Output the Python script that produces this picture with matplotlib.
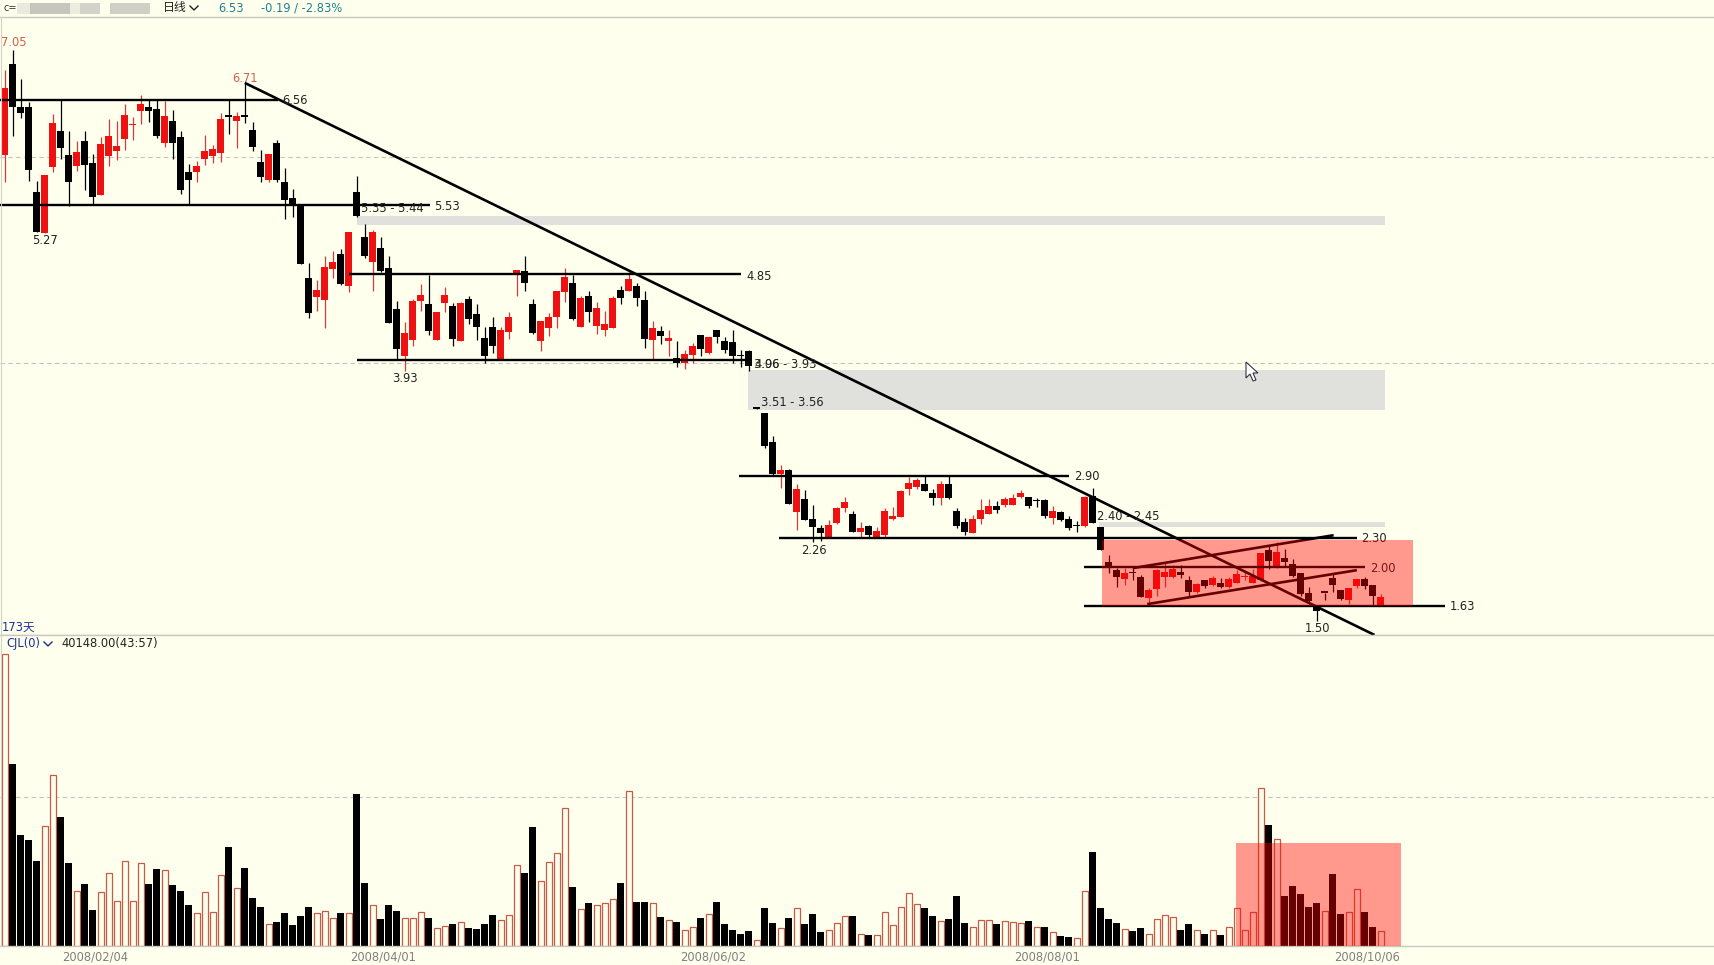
import matplotlib
matplotlib.use('Agg')
import matplotlib.pyplot as plt
from matplotlib.patches import Rectangle, Polygon

plt.rcParams['font.family'] = ['DejaVu Sans', 'Noto Sans CJK SC']

# daily prices
opens = [6.03, 6.91, 6.50, 6.50, 5.67, 5.27, 5.91, 6.26, 6.03, 5.92,
         6.16, 5.95, 5.64, 6.02, 6.07, 6.18, 6.32, 6.46, 6.50, 6.48,
         6.15, 6.36, 6.20, 5.86, 5.86, 5.99, 6.02, 6.05, 6.41, 6.36,
         6.41, 6.27, 5.96, 5.79, 6.15, 5.77, 5.61, 5.54, 4.83, 4.65,
         4.62, 4.92, 5.07, 4.75, 5.67, 5.23, 4.99, 5.12, 4.93, 4.53,
         4.07, 4.23, 4.61, 4.58, 4.23, 4.59, 4.56, 4.22, 4.63, 4.48,
         4.25, 4.36, 4.03, 4.31, 4.86, 4.90, 4.58, 4.22, 4.35, 4.45,
         4.70, 4.78, 4.36, 4.66, 4.37, 4.33, 4.35, 4.72, 4.71, 4.75,
         4.62, 4.23, 4.32, 4.22, 4.05, 4.01, 4.08, 4.28, 4.10, 4.33,
         4.22, 4.21, 4.08, 4.12, 3.57, 3.52, 3.24, 2.93, 2.96, 2.56,
         2.68, 2.49, 2.40, 2.30, 2.45, 2.59, 2.54, 2.36, 2.42, 2.30,
         2.33, 2.49, 2.51, 2.78, 2.80, 2.83, 2.74, 2.69, 2.83, 2.57,
         2.46, 2.35, 2.49, 2.54, 2.61, 2.62, 2.62, 2.70, 2.70, 2.66,
         2.67, 2.50, 2.56, 2.49, 2.42, 2.42, 2.71, 2.41, 2.07, 1.99,
         1.90, 1.96, 1.92, 1.72, 1.81, 1.92, 1.92, 1.97, 1.89, 1.78,
         1.89, 1.85, 1.87, 1.83, 1.87, 1.92, 1.87, 1.89, 2.19, 2.02,
         2.11, 2.05, 1.96, 1.77, 1.65, 1.77, 1.91, 1.80, 1.70, 1.84, 1.90, 1.85, 1.65]
highs = [6.86, 7.05, 6.77, 6.54, 5.78, 5.83, 6.43, 6.56, 6.26, 6.16,
         6.26, 6.04, 6.20, 6.38, 6.36, 6.52, 6.40, 6.61, 6.56, 6.56,
         6.55, 6.47, 6.26, 5.94, 5.97, 6.22, 6.13, 6.44, 6.56, 6.45,
         6.73, 6.35, 6.08, 6.04, 6.17, 5.90, 5.70, 5.54, 4.98, 4.81,
         5.05, 5.09, 5.11, 5.28, 5.82, 5.36, 5.30, 5.23, 5.05, 4.61,
         4.40, 4.63, 4.77, 4.86, 4.50, 4.74, 4.59, 4.60, 4.66, 4.58,
         4.36, 4.45, 4.36, 4.50, 4.91, 5.05, 4.63, 4.41, 4.49, 4.71,
         4.93, 4.86, 4.66, 4.71, 4.60, 4.51, 4.66, 4.75, 4.89, 4.78,
         4.71, 4.41, 4.37, 4.33, 4.22, 4.13, 4.20, 4.28, 4.26, 4.33,
         4.26, 4.33, 4.13, 4.13, 3.57, 3.52, 3.30, 3.01, 2.97, 2.83,
         2.77, 2.62, 2.43, 2.48, 2.60, 2.70, 2.57, 2.46, 2.43, 2.41,
         2.59, 2.60, 2.77, 2.90, 2.89, 2.91, 2.78, 2.86, 2.91, 2.59,
         2.50, 2.53, 2.68, 2.68, 2.66, 2.70, 2.73, 2.77, 2.70, 2.69,
         2.68, 2.61, 2.57, 2.52, 2.47, 2.71, 2.79, 2.41, 2.14, 2.01,
         2.01, 2.03, 1.94, 1.82, 2.00, 2.06, 2.04, 2.04, 1.93, 1.87,
         1.89, 1.93, 1.91, 1.92, 1.99, 1.98, 2.00, 2.16, 2.23, 2.26,
         2.20, 2.10, 1.96, 1.83, 1.65, 1.77, 1.96, 1.80, 1.82, 1.90, 1.92, 1.85, 1.76]
lows = [5.77, 6.21, 6.39, 5.78, 5.28, 5.27, 5.86, 5.99, 5.53, 5.87,
        5.69, 5.55, 5.64, 5.92, 5.98, 6.08, 6.17, 6.33, 6.35, 6.19,
        6.11, 5.99, 5.65, 5.55, 5.77, 5.93, 5.95, 5.96, 6.23, 6.10,
        6.34, 6.07, 5.77, 5.77, 5.77, 5.41, 5.43, 4.97, 4.44, 4.51,
        4.35, 4.83, 4.76, 4.70, 5.43, 5.03, 4.71, 4.89, 4.39, 4.03,
        3.93, 4.17, 4.51, 4.28, 4.23, 4.50, 4.17, 4.22, 4.38, 4.23,
        4.01, 4.10, 4.03, 4.24, 4.66, 4.71, 4.29, 4.12, 4.27, 4.35,
        4.60, 4.42, 4.36, 4.40, 4.29, 4.27, 4.35, 4.58, 4.71, 4.56,
        4.15, 4.03, 4.19, 4.07, 3.97, 3.95, 4.01, 4.07, 4.09, 4.20,
        4.10, 4.01, 3.97, 3.93, 3.56, 3.18, 2.92, 2.79, 2.63, 2.38,
        2.48, 2.26, 2.27, 2.30, 2.44, 2.56, 2.36, 2.30, 2.30, 2.30,
        2.31, 2.48, 2.51, 2.72, 2.78, 2.76, 2.62, 2.62, 2.68, 2.40,
        2.33, 2.35, 2.44, 2.54, 2.55, 2.60, 2.62, 2.69, 2.59, 2.60,
        2.50, 2.44, 2.47, 2.38, 2.36, 2.41, 2.45, 2.19, 1.96, 1.83,
        1.85, 1.89, 1.73, 1.65, 1.74, 1.83, 1.91, 1.91, 1.73, 1.77,
        1.82, 1.84, 1.82, 1.82, 1.87, 1.89, 1.87, 1.88, 2.00, 2.01,
        2.03, 1.92, 1.74, 1.68, 1.50, 1.70, 1.78, 1.70, 1.66, 1.82, 1.81, 1.65, 1.65]
closes = [6.68, 6.50, 6.44, 5.88, 5.28, 5.83, 6.34, 6.10, 5.77, 6.06,
          5.93, 5.62, 6.14, 6.21, 6.12, 6.42, 6.33, 6.52, 6.46, 6.21,
          6.41, 6.15, 5.69, 5.79, 5.92, 6.07, 6.09, 6.38, 6.40, 6.41,
          6.40, 6.11, 5.81, 6.04, 5.79, 5.59, 5.54, 4.97, 4.49, 4.72,
          4.94, 4.99, 4.77, 5.28, 5.44, 5.05, 5.28, 4.90, 4.39, 4.14,
          4.30, 4.61, 4.67, 4.32, 4.50, 4.67, 4.24, 4.59, 4.43, 4.36,
          4.07, 4.17, 4.33, 4.45, 4.91, 4.78, 4.30, 4.41, 4.45, 4.71,
          4.84, 4.43, 4.64, 4.50, 4.54, 4.38, 4.64, 4.64, 4.82, 4.64,
          4.24, 4.35, 4.27, 4.25, 4.01, 4.09, 4.17, 4.14, 4.26, 4.26,
          4.13, 4.07, 4.07, 3.98, 3.56, 3.20, 2.93, 2.96, 2.63, 2.78,
          2.48, 2.41, 2.35, 2.43, 2.59, 2.65, 2.36, 2.40, 2.33, 2.37,
          2.57, 2.52, 2.76, 2.84, 2.87, 2.76, 2.69, 2.83, 2.69, 2.42,
          2.36, 2.49, 2.58, 2.61, 2.58, 2.68, 2.69, 2.74, 2.61, 2.66,
          2.52, 2.57, 2.48, 2.40, 2.42, 2.70, 2.45, 2.19, 2.01, 1.92,
          1.96, 1.96, 1.73, 1.80, 1.99, 1.97, 2.00, 1.94, 1.78, 1.86,
          1.84, 1.91, 1.83, 1.90, 1.95, 1.93, 1.93, 2.16, 2.08, 2.17,
          2.07, 1.93, 1.76, 1.69, 1.59, 1.77, 1.85, 1.71, 1.82, 1.90, 1.84, 1.74, 1.73]

# volume has no axis in the picture, so these are bar heights in arbitrary units
volumes = [876, 546, 333, 318, 255, 359, 512, 387, 249, 164,
           186, 108, 161, 218, 135, 255, 135, 249, 186, 231,
           228, 183, 165, 123, 99, 161, 101, 213, 297, 173,
           234, 144, 117, 65, 72, 99, 63, 90, 117, 99,
           104, 83, 99, 99, 456, 189, 122, 81, 123, 105,
           83, 83, 101, 84, 53, 59, 66, 71, 54, 51,
           66, 93, 77, 92, 242, 219, 357, 194, 251, 278,
           413, 177, 110, 129, 122, 128, 140, 189, 464, 132,
           132, 128, 87, 77, 72, 47, 57, 84, 95, 132,
           66, 48, 36, 45, 17, 114, 69, 53, 84, 113,
           66, 96, 42, 47, 68, 89, 90, 35, 33, 32,
           101, 62, 116, 158, 125, 114, 90, 74, 81, 150,
           69, 56, 77, 77, 66, 74, 71, 68, 75, 56,
           57, 41, 30, 27, 23, 164, 282, 114, 81, 69,
           50, 45, 54, 35, 80, 92, 86, 48, 66, 47,
           36, 47, 33, 56, 113, 47, 101, 473, 363, 320,
           150, 180, 156, 117, 129, 104, 216, 96, 101, 170, 102, 57, 44]
# k = solid black bar, r = hollow red bar
vol_kind = ('rkkkkrrkkr' 'kkrrrrrrkk' 'rkkkrrrrkr' 'kkkrkkkkkr' 'rrkrkkrkkk'
            'rrrkrrkrkk' 'kkrrrkkrrr' 'rkrkrrrkrk' 'krkrkrrkrk' 'kkkkrkkrkr'
            'kkkrrrkrkr' 'rrrrrkkrkk' 'krrrkrrrkr' 'krkkrrkkkk' 'rkkrrrrkkr'
            'krkrrrrrkr' 'kkkkkrkkrr' 'kkr')
vol_grid = 447

date_labels = ['2008/02/04', '2008/04/01', '2008/06/02', '2008/08/01', '2008/10/06']
date_pos = [11.3, 47.3, 88.5, 130.3, 170.3]

# drawn support / resistance levels
level_prices = [6.56, 5.54, 4.87, 4.03, 2.91, 2.30, 2.02, 1.645]
level_start = [-1, -1, 43, 44, 91.8, 96.8, 134.9, 134.9]
level_end = [34.1, 53.1, 92, 92.7, 133, 169, 170, 180]

# drawn trend lines (first bar, first price, last bar, last price)
trend_x = [[30, 171.2], [141, 166.1], [142.8, 169]]
trend_y = [[6.73, 1.36], [2.01, 2.33], [1.66, 1.99]]

# grey gap zones
gap_low = [5.35, 3.55, 2.41]
gap_high = [5.44, 3.94, 2.46]
gap_start = [44, 92.96, 136.8]
gap_end = 172.5

BG = '#ffffee'
GRID = '#c4c4b8'
UP = '#ee1111'
WICK_UP = '#d83a3a'
EDGE = '#c85a48'
FONT = 8.3

fig = plt.figure(figsize=(17.15, 9.65), dpi=100, facecolor=BG)

# panels are placed by pixel rows of the 965 px high figure
price_ax = fig.add_axes([0, (965 - 635) / 965, 1, (635 - 17) / 965], facecolor=BG)
vol_ax = fig.add_axes([0, (965 - 946) / 965, 1, (946 - 635) / 965], facecolor=BG)
over = fig.add_axes([0, 0, 1, 1], facecolor='none')
over.set_xlim(0, 1715)
over.set_ylim(965, 0)
over.axis('off')

x_lim = (-0.6, 213.77)
bars = list(range(len(opens)))

price_ax.axhline(6.01, color=GRID, lw=0.8, ls=(0, (4, 3)), zorder=1)
price_ax.axhline(4.01, color=GRID, lw=0.8, ls=(0, (4, 3)), zorder=1)

for low, high, start in zip(gap_low, gap_high, gap_start):
    price_ax.add_patch(Rectangle((start, low), gap_end - start, high - low,
                                 facecolor='#e0e0dc', edgecolor='none', zorder=1.5))

for i in bars:
    is_up = closes[i] > opens[i]
    price_ax.vlines(i, lows[i], highs[i], color=WICK_UP if is_up else 'black', lw=0.9, zorder=2)
    bottom = min(opens[i], closes[i])
    height = max(abs(closes[i] - opens[i]), 0.014)
    price_ax.bar(i, height, bottom=bottom, width=0.875,
                 color=UP if is_up else 'black', linewidth=0, zorder=3)

for p, start, end in zip(level_prices, level_start, level_end):
    price_ax.plot([start, end], [p, p], color='black', lw=1.7, zorder=4, solid_capstyle='butt')
for tx, ty in zip(trend_x, trend_y):
    price_ax.plot(tx, ty, color='black', lw=1.9, zorder=4, solid_capstyle='butt')

price_ax.set_xlim(*x_lim)
price_ax.set_ylim(7.05 - 585 / 102.8, 7.05 + 33 / 102.8)
price_ax.set_xticks([])
price_ax.set_yticks([])

vol_ax.axhline(vol_grid, color=GRID, lw=0.8, ls=(0, (4, 3)), zorder=1)
for i in bars:
    if vol_kind[i] == 'k':
        vol_ax.bar(i, volumes[i], width=0.875, color='black', linewidth=0, zorder=2)
    else:
        vol_ax.bar(i, volumes[i], width=0.75, facecolor=BG, edgecolor=EDGE, linewidth=0.9, zorder=2)
vol_ax.set_xlim(*x_lim)
vol_ax.set_ylim(0, 933)
vol_ax.set_yticks([])
vol_ax.set_xticks(date_pos)
vol_ax.set_xticklabels(date_labels, color='#808080', fontsize=FONT)
vol_ax.tick_params(axis='x', length=0, pad=3)

for ax in (price_ax, vol_ax):
    for side in ('left', 'right'):
        ax.spines[side].set_visible(False)
    for side in ('top', 'bottom'):
        ax.spines[side].set_color('#c8c8bc')
        ax.spines[side].set_linewidth(1.0)
over.plot([1, 1], [17, 946], color='#d4d4c8', lw=0.8)

# price labels beside the drawn levels
labels = [('7.05', 1, 43, '#d0604f'), ('6.71', 232, 78, '#d0604f'), ('6.56', 282, 101, '#222222'),
          ('5.27', 32, 241, '#222222'), ('5.35 - 5.44', 361, 209, '#222222'), ('5.53', 434, 206, '#222222'),
          ('4.85', 746, 276, '#222222'), ('3.93', 392, 379, '#222222'), ('4.06', 754, 364, '#444444'),
          ('3.96 - 3.93', 754, 364, '#222222'), ('3.51 - 3.56', 761, 403, '#222222'),
          ('2.90', 1074, 477, '#222222'), ('2.40 - 2.45', 1097, 516, '#222222'), ('2.26', 801, 550, '#222222'),
          ('2.30', 1361, 539, '#222222'), ('2.00', 1370, 569, '#222222'), ('1.63', 1450, 607, '#222222'),
          ('1.50', 1305, 629, '#222222')]
for text, x, y, color in labels:
    over.text(x, y, text, color=color, fontsize=FONT, va='center', ha='left', zorder=2)

# translucent red boxes sit on top of everything in them
over.add_patch(Rectangle((137.2, 1.64), 176 - 137.2, 2.28 - 1.64, transform=price_ax.transData,
                         facecolor=(1, 0, 0, 0.4), edgecolor='none', zorder=5))
over.add_patch(Rectangle((153.9, 0), 174.5 - 153.9, 309, transform=vol_ax.transData,
                         facecolor=(1, 0, 0, 0.4), edgecolor='none', zorder=5))

# header row, the blurred name is only grey smudges
for x0, w, shade in [(17, 14, '#e4e4d8'), (30, 40, '#b8b8b0'), (70, 10, '#e8e8dc'), (80, 20, '#c8c8c0'),
                     (110, 40, '#c4c4bc')]:
    over.add_patch(Rectangle((x0, 3), w, 11, facecolor=shade, edgecolor='none', alpha=0.8))
over.text(4, 8, 'c=', fontsize=7, color='#333333', va='center', ha='left')
over.text(163, 8, '日线', fontsize=8.6, color='#222222', va='center', ha='left')
over.plot([190, 194, 198], [6, 10, 6], color='#222222', lw=1)
over.text(218, 8, '6.53', fontsize=FONT, color='#1f8090', va='center', ha='left')
over.text(261, 8, '-0.19 / -2.83%', fontsize=FONT, color='#1f8090', va='center', ha='left')
over.text(2, 627, '173天', fontsize=FONT, color='#1c2f9c', va='center', ha='left')
over.text(6, 643, 'CJL(0)', fontsize=FONT, color='#1c2f9c', va='center', ha='left')
over.plot([44, 48, 52], [642, 646, 642], color='#1c2f9c', lw=1)
over.text(61, 643, '40148.00(43:57)', fontsize=FONT, color='#222222', va='center', ha='left')

# mouse pointer
over.add_patch(Polygon([(1246, 362), (1246, 378), (1250, 374), (1253, 381), (1256, 380), (1253, 373), (1258, 373)],
                       closed=True, facecolor='white', edgecolor='#333344', lw=0.8, zorder=6))

fig.savefig('out.png', dpi=100, facecolor=BG)
